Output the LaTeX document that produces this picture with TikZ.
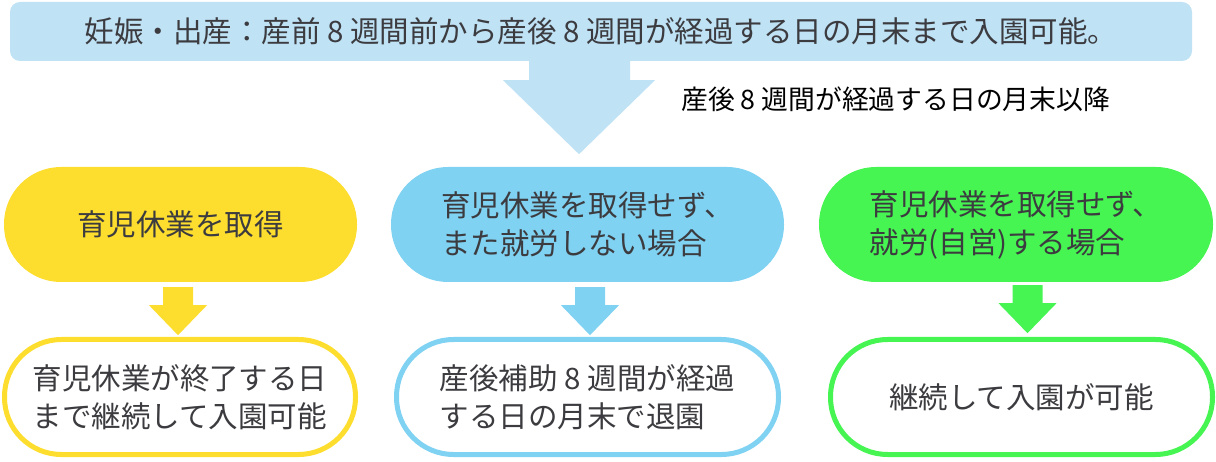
\documentclass[tikz,border=0pt]{standalone}
\usepackage{fontspec}
\setmainfont{Noto Sans CJK JP}
\usetikzlibrary{positioning,calc}
\definecolor{skyband}{RGB}{191,226,245}
\definecolor{yelbox}{RGB}{253,221,46}
\definecolor{bluebox}{RGB}{128,210,242}
\definecolor{greenbox}{RGB}{70,245,82}
\definecolor{inkgray}{RGB}{60,60,64}

% block arrow pointing down from a top-centre point
\newcommand{\downblock}[2]{%
  \fill[#2] #1 ++(-15,0) -- ++(30,0) -- ++(0,18) -- ++(14,0) -- ++(-29,30)
    -- ++(-29,-30) -- ++(14,0) -- cycle;}

\begin{document}
\begin{tikzpicture}[x=1pt, y=-1pt]
    \tikzset{
        pill/.style={rounded corners=57pt, minimum height=115pt, align=left,
            text=inkgray, font=\fontsize{29.5}{38}\selectfont, inner sep=0pt},
        result/.style={pill, line width=5pt, fill=white}
    }
    \useasboundingbox (0,0) rectangle (1216,462);

    % Top band
    \node[fill=skyband, rounded corners=10pt, minimum width=1182pt, minimum height=59pt,
        text=inkgray, font=\fontsize{29.5}{36}\selectfont] (band) at (601,31.5)
        {妊娠・出産：産前 8 週間前から産後 8 週間が経過する日の月末まで入園可能。};

    % Big arrow
    \fill[skyband] ($(band.south)+(-72,0)$) -- ++(101,0) -- ++(0,19) -- ++(25,0)
        -- ++(-76,74) -- ++(-76,-74) -- ++(26,0) -- cycle;
    \node[anchor=west, inner sep=0pt, font=\fontsize{26.8}{32}\selectfont] (after) at (681,99)
        {産後 8 週間が経過する日の月末以降};

    % Cases
    \node[pill, fill=yelbox, minimum width=353pt] (leave) at (180.5,224.5) {育児休業を取得};
    \node[pill, fill=bluebox, minimum width=393pt] (home) at (587.5,224.5)
        {育児休業を取得せず、\\また就労しない場合};
    \node[pill, fill=greenbox, minimum width=394pt] (work) at (1016,224.5)
        {育児休業を取得せず、\\就労(自営)する場合};

    % Results
    \node[result, draw=yelbox, minimum width=351pt] (leaveres) at (180,397)
        {育児休業が終了する日\\まで継続して入園可能};
    \node[result, draw=bluebox, minimum width=382pt] (homeres) at (587.5,397)
        {産後補助 8 週間が経過\\する日の月末で退園};
    \node[result, draw=greenbox, minimum width=382pt] (workres) at (1021.5,397)
        {継続して入園が可能};

    % Arrows
    \downblock{($(leave.south)+(-2.5,5)$)}{yelbox}
    \downblock{($(home.south)+(2.5,5)$)}{bluebox}
    \downblock{($(work.south)+(11.5,3)$)}{greenbox}
\end{tikzpicture}
\end{document}
